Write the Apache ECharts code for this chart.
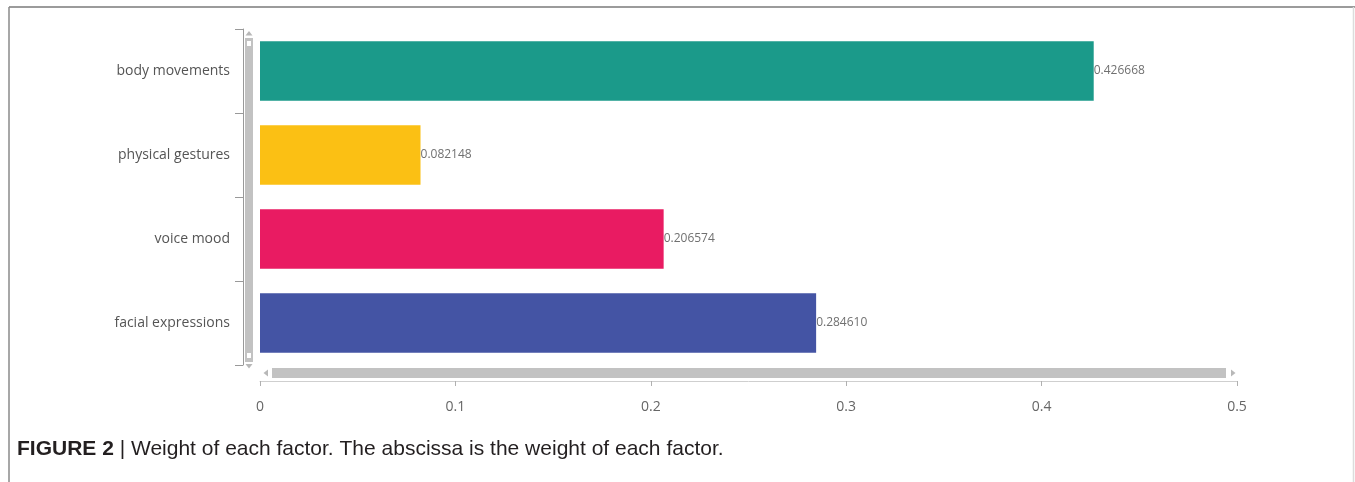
<!DOCTYPE html>
<html>
<head>
<meta charset="utf-8">
<script src="https://cdn.jsdelivr.net/npm/echarts@6/dist/echarts.min.js"></script>
<style>
  html, body { margin: 0; padding: 0; background: #fff; }
  #main { width: 1355px; height: 482px; }
</style>
</head>
<body>
<div id="main"></div>
<script>
const categories = ['body movements', 'physical gestures', 'voice mood', 'facial expressions'];
const weights = [0.426668, 0.082148, 0.206574, 0.284610];
const barColors = ['#1b9a8a', '#fbc014', '#e91b62', '#4454a4'];
const xTicks = [0, 0.5, 0.1];  // min, max, interval

const chart = echarts.init(document.getElementById('main'));

const scrollGray = '#c2c2c2';
const arrowGray = '#b8b8b8';

const option = {
  backgroundColor: '#fff',
  animation: false,
  grid: { left: 260, right: 118, top: 29, bottom: 117, containLabel: false },
  xAxis: {
    type: 'value',
    min: xTicks[0],
    max: xTicks[1],
    interval: xTicks[2],
    offset: 16,
    axisLine: { show: true, lineStyle: { color: '#cfcfcf', width: 1 } },
    axisTick: { show: true, length: 5, lineStyle: { color: '#b0b0b0' } },
    splitLine: { show: false },
    axisLabel: {
      color: '#666', fontSize: 14, fontFamily: 'Open Sans', margin: 19,
      formatter: v => String(+v.toFixed(1))
    }
  },
  yAxis: {
    type: 'category',
    data: categories,
    inverse: true,
    offset: 17,
    axisLine: { show: true, onZero: false, lineStyle: { color: '#999', width: 1 } },
    axisTick: { show: true, length: 8, lineStyle: { color: '#999' } },
    axisLabel: { color: '#555', fontSize: 14, fontFamily: 'Open Sans', margin: 13 }
  },
  series: [{
    type: 'bar',
    barCategoryGap: '29%',
    data: weights.map((v, i) => ({ value: v, itemStyle: { color: barColors[i] } })),
    label: {
      show: true,
      position: 'right',
      distance: 0,
      color: '#707070',
      fontSize: 12,
      fontFamily: 'Open Sans',
      formatter: p => p.value.toFixed(6)
    }
  }],
  graphic: [
    // figure frame
    { type: 'line', shape: { x1: 9, y1: 7, x2: 1355, y2: 7 }, style: { stroke: '#7a7a7a', lineWidth: 1.5 } },
    { type: 'line', shape: { x1: 9, y1: 7, x2: 9, y2: 482 }, style: { stroke: '#8a8a8a', lineWidth: 1.5 } },
    { type: 'line', shape: { x1: 1353.5, y1: 7, x2: 1353.5, y2: 482 }, style: { stroke: '#dcdcdc', lineWidth: 1.5 } },
    // vertical scrollbar
    { type: 'rect', shape: { x: 245, y: 38, width: 8, height: 324 }, style: { fill: scrollGray } },
    { type: 'rect', shape: { x: 247, y: 41, width: 4, height: 5 }, style: { fill: '#fff' } },
    { type: 'rect', shape: { x: 247, y: 353, width: 4, height: 5 }, style: { fill: '#fff' } },
    { type: 'polygon', shape: { points: [[245.5, 35.5], [252.5, 35.5], [249, 31]] }, style: { fill: arrowGray } },
    { type: 'polygon', shape: { points: [[245.5, 364], [252.5, 364], [249, 368.5]] }, style: { fill: arrowGray } },
    // horizontal scrollbar
    { type: 'rect', shape: { x: 272, y: 368, width: 954, height: 10 }, style: { fill: scrollGray } },
    { type: 'polygon', shape: { points: [[268, 369.5], [268, 376.5], [263.5, 373]] }, style: { fill: arrowGray } },
    { type: 'polygon', shape: { points: [[1231, 369.5], [1231, 376.5], [1235.5, 373]] }, style: { fill: arrowGray } },
    // caption
    {
      type: 'text', left: 17, top: 439,
      style: {
        text: '{b|FIGURE 2 }{s||}{n| Weight of each factor. The abscissa is the weight of each factor.}',
        rich: {
          b: { fontFamily: 'Liberation Sans', fontWeight: 'bold', fontSize: 21, fill: '#231f20' },
          s: { fontFamily: 'Liberation Sans', fontSize: 21, fill: '#231f20' },
          n: { fontFamily: 'Liberation Sans', fontSize: 21, fill: '#231f20' }
        }
      }
    }
  ]
};

chart.setOption(option);
</script>
</body>
</html>
